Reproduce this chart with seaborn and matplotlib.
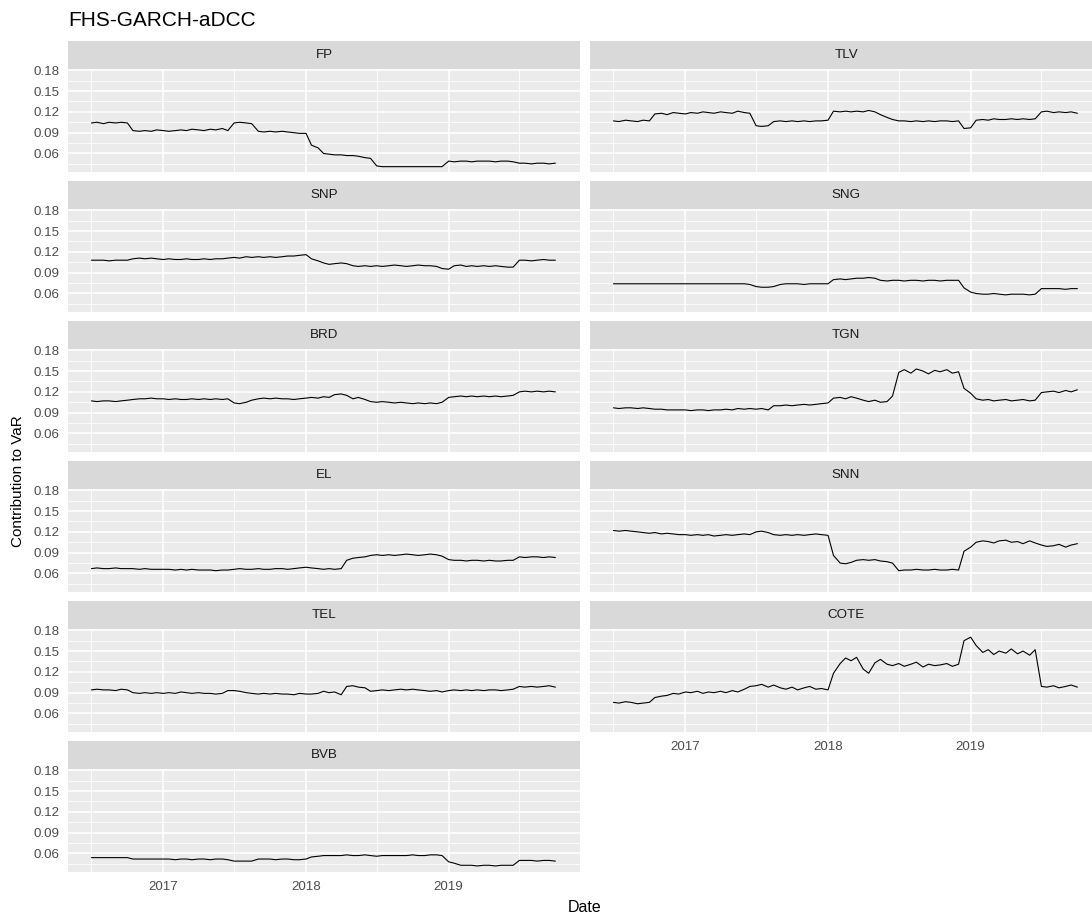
import numpy as np
import pandas as pd
import seaborn as sns
import matplotlib.pyplot as plt
import matplotlib.dates as mdates
from matplotlib.ticker import FixedLocator, FormatStrFormatter
from matplotlib.patches import Rectangle

# semi-monthly readings, Jul 2016 .. Oct 2019 (79 points per series)
dates = pd.date_range("2016-07-01", "2019-10-01", freq="SMS")

FP = [.104, .105, .103, .105, .104, .105, .104, .093, .092, .093, .092, .094,
      .093, .092, .093, .094, .093, .095, .094, .093, .095, .094, .096, .093,
      .104, .105, .104, .103, .092, .091, .092, .091, .092, .091, .090, .089,
      .089, .072, .068, .060, .059, .058, .058, .057, .057, .056, .054, .053,
      .042, .041, .041, .041, .041, .041, .041, .041, .041, .041, .041, .041,
      .049, .048, .049, .049, .048, .049, .049, .049, .048, .049, .049, .048,
      .046, .046, .045, .046, .046, .045, .046]
TLV = [.107, .106, .108, .107, .106, .108, .107, .117, .118, .116, .119, .118,
       .117, .119, .118, .120, .119, .118, .120, .119, .118, .121, .119, .118,
       .100, .099, .100, .106, .107, .106, .107, .106, .107, .106, .107, .107,
       .108, .121, .120, .121, .120, .121, .120, .122, .120, .116, .112, .109,
       .107, .107, .106, .107, .106, .107, .106, .107, .107, .106, .107, .096,
       .097, .108, .109, .108, .110, .109, .109, .110, .109, .110, .109, .110,
       .120, .121, .119, .120, .119, .120, .118]
SNP = [.108, .108, .108, .107, .108, .108, .108, .110, .111, .110, .111, .110,
       .109, .110, .109, .109, .110, .109, .109, .110, .109, .110, .110, .111,
       .112, .111, .113, .112, .113, .112, .113, .112, .113, .114, .114, .115,
       .116, .110, .107, .104, .102, .103, .104, .103, .100, .099, .100, .099,
       .100, .099, .100, .101, .100, .099, .100, .101, .100, .100, .099, .096,
       .095, .100, .101, .099, .100, .099, .100, .099, .100, .099, .098, .098,
       .108, .108, .107, .108, .109, .108, .108]
SNG = [.074, .074, .074, .074, .074, .074, .074, .074, .074, .074, .074, .074,
       .074, .074, .074, .074, .074, .074, .074, .074, .074, .074, .074, .073,
       .070, .069, .069, .070, .073, .074, .074, .074, .073, .074, .074, .074,
       .074, .080, .081, .080, .081, .082, .082, .083, .082, .079, .078, .079,
       .079, .078, .079, .079, .078, .079, .079, .078, .079, .079, .079, .068,
       .062, .060, .059, .059, .060, .059, .058, .059, .059, .059, .058, .059,
       .067, .067, .067, .067, .066, .067, .067]
BRD = [.107, .106, .107, .107, .106, .107, .108, .109, .110, .110, .111, .110,
       .110, .109, .110, .109, .109, .110, .109, .110, .109, .110, .109, .110,
       .104, .103, .105, .108, .110, .111, .110, .111, .110, .110, .109, .110,
       .111, .112, .111, .113, .112, .116, .117, .115, .110, .112, .109, .106,
       .105, .106, .105, .104, .105, .104, .103, .104, .103, .104, .103, .105,
       .112, .113, .114, .113, .114, .113, .114, .113, .114, .113, .114, .115,
       .120, .121, .120, .121, .120, .121, .120]
TGN = [.097, .096, .097, .097, .096, .097, .096, .095, .095, .094, .094, .094,
       .094, .093, .094, .094, .093, .094, .094, .095, .094, .096, .095, .096,
       .095, .096, .094, .100, .100, .101, .100, .101, .102, .101, .102, .103,
       .104, .111, .112, .110, .113, .111, .108, .106, .108, .105, .106, .114,
       .148, .152, .147, .153, .150, .146, .151, .149, .152, .147, .149, .125,
       .118, .110, .108, .109, .107, .108, .109, .107, .108, .109, .107, .108,
       .119, .120, .121, .119, .122, .120, .123]
EL = [.067, .068, .067, .067, .068, .067, .067, .067, .066, .067, .066, .066,
      .066, .066, .065, .066, .065, .066, .065, .065, .065, .064, .065, .065,
      .066, .067, .066, .066, .067, .066, .066, .067, .067, .066, .067, .068,
      .069, .068, .067, .066, .067, .066, .067, .079, .082, .083, .084, .086,
      .087, .086, .087, .086, .087, .088, .087, .086, .087, .088, .087, .085,
      .080, .079, .079, .078, .079, .079, .078, .079, .078, .078, .079, .079,
      .084, .083, .084, .084, .083, .084, .083]
SNN = [.122, .121, .122, .121, .120, .119, .118, .119, .117, .118, .117, .116,
       .116, .115, .116, .115, .116, .114, .115, .116, .115, .116, .117, .116,
       .120, .121, .119, .116, .115, .116, .115, .116, .115, .116, .117, .116,
       .115, .086, .075, .074, .076, .079, .080, .079, .080, .078, .077, .075,
       .064, .065, .065, .066, .065, .065, .066, .065, .065, .066, .065, .092,
       .098, .105, .107, .106, .104, .107, .108, .105, .106, .103, .107, .104,
       .101, .099, .100, .102, .098, .101, .103]
TEL = [.094, .095, .094, .094, .093, .095, .094, .090, .089, .090, .089, .090,
       .089, .090, .089, .091, .090, .089, .090, .089, .089, .088, .089, .093,
       .093, .092, .090, .089, .088, .089, .088, .089, .088, .088, .087, .089,
       .088, .088, .089, .092, .090, .091, .087, .099, .100, .098, .097, .092,
       .093, .094, .093, .094, .095, .094, .095, .094, .093, .092, .093, .091,
       .093, .094, .093, .094, .093, .094, .093, .094, .094, .093, .094, .095,
       .099, .098, .099, .098, .099, .100, .098]
COTE = [.076, .075, .077, .076, .074, .075, .076, .083, .085, .086, .089, .088,
        .091, .090, .092, .089, .091, .090, .092, .090, .093, .091, .095, .099,
        .100, .102, .098, .101, .097, .095, .098, .094, .097, .099, .095, .096,
        .094, .118, .132, .140, .136, .141, .124, .118, .133, .138, .131, .129,
        .132, .128, .131, .134, .127, .131, .129, .130, .132, .128, .131, .165,
        .170, .158, .148, .152, .145, .150, .147, .153, .146, .150, .144, .152,
        .099, .098, .100, .097, .099, .101, .098]
BVB = [.054, .054, .054, .054, .054, .054, .054, .052, .052, .052, .052, .052,
       .052, .052, .051, .052, .052, .051, .052, .052, .051, .052, .052, .051,
       .049, .049, .049, .049, .052, .052, .052, .051, .052, .052, .051, .051,
       .052, .055, .056, .057, .057, .057, .057, .058, .057, .057, .058, .057,
       .056, .057, .057, .057, .057, .057, .058, .057, .057, .058, .058, .057,
       .048, .046, .043, .043, .043, .042, .043, .043, .042, .043, .043, .043,
       .050, .050, .050, .049, .050, .050, .049]

stocks = ["FP", "TLV", "SNP", "SNG", "BRD", "TGN", "EL", "SNN", "TEL", "COTE", "BVB"]
series = [FP, TLV, SNP, SNG, BRD, TGN, EL, SNN, TEL, COTE, BVB]

y_ticks = [0.06, 0.09, 0.12, 0.15, 0.18]
y_minor = [0.045, 0.075, 0.105, 0.135, 0.165]

df = pd.DataFrame({
    "Date": np.tile(dates, len(stocks)),
    "stock": np.repeat(stocks, len(dates)),
    "value": np.concatenate(series),
})

sns.set_theme(style="darkgrid", rc={"axes.facecolor": "#EBEBEB", "grid.color": "white",
                                    "figure.facecolor": "white"})
plt.rcParams["font.family"] = ["Liberation Sans", "DejaVu Sans"]

g = sns.relplot(data=df, x="Date", y="value", col="stock", col_order=stocks,
                col_wrap=2, kind="line", color="black", linewidth=0.8,
                height=2, aspect=2, facet_kws=dict(sharex=True, sharey=True, despine=False))
fig = g.figure
fig.set_size_inches(10.92, 9.16)
g.set_titles("")
g.set_axis_labels("", "")

W, H = 1092.0, 916.0
col_x = [68, 590]
pw, ph = 512, 103
strip_h = 28

for i, name in enumerate(stocks):
    ax = g.axes_dict[name]
    r, c = divmod(i, 2)
    top = 69 + 140 * r
    ax.set_position([col_x[c] / W, (H - top - ph) / H, pw / W, ph / H])
    for s in ax.spines.values():
        s.set_visible(False)
    ax.set_xlim(pd.Timestamp("2016-05-02"), pd.Timestamp("2019-12-03"))
    ax.set_ylim(0.0333, 0.1818)
    ax.xaxis.set_major_locator(mdates.YearLocator())
    ax.xaxis.set_major_formatter(mdates.DateFormatter("%Y"))
    ax.xaxis.set_minor_locator(mdates.MonthLocator(bymonth=[7], bymonthday=1))
    ax.yaxis.set_major_locator(FixedLocator(y_ticks))
    ax.yaxis.set_minor_locator(FixedLocator(y_minor))
    ax.yaxis.set_major_formatter(FormatStrFormatter("%.2f"))
    ax.grid(which="major", color="white", linewidth=1.2)
    ax.grid(which="minor", color="white", linewidth=0.6)
    ax.set_axisbelow(True)
    ax.tick_params(axis="both", which="both", length=0, labelsize=9.6,
                   labelcolor="#4D4D4D", color="#333333", pad=3)
    if c == 0:
        ax.tick_params(axis="y", which="major", length=3.2, width=0.8)
    if name in ("COTE", "BVB"):
        ax.tick_params(axis="x", which="major", length=3.2, width=0.8)
    ax.add_patch(Rectangle((0, 1), 1, strip_h / ph, transform=ax.transAxes,
                           clip_on=False, facecolor="#D9D9D9", edgecolor="none"))
    ax.text(0.5, 1 + strip_h / ph / 2, name, transform=ax.transAxes, ha="center",
            va="center", fontsize=9.6, color="#1A1A1A")

fig.text(68 / W, 1 - 21 / H, "FHS-GARCH-aDCC", fontsize=15, ha="left", va="center",
         color="black")
fig.text(18 / W, 1 - 481 / H, "Contribution to VaR", rotation=90, fontsize=11,
         ha="center", va="center", color="black")
fig.text(585 / W, 1 - 907 / H, "Date", fontsize=11.5, ha="center", va="center",
         color="black")

fig.savefig("out.png", dpi=100)
